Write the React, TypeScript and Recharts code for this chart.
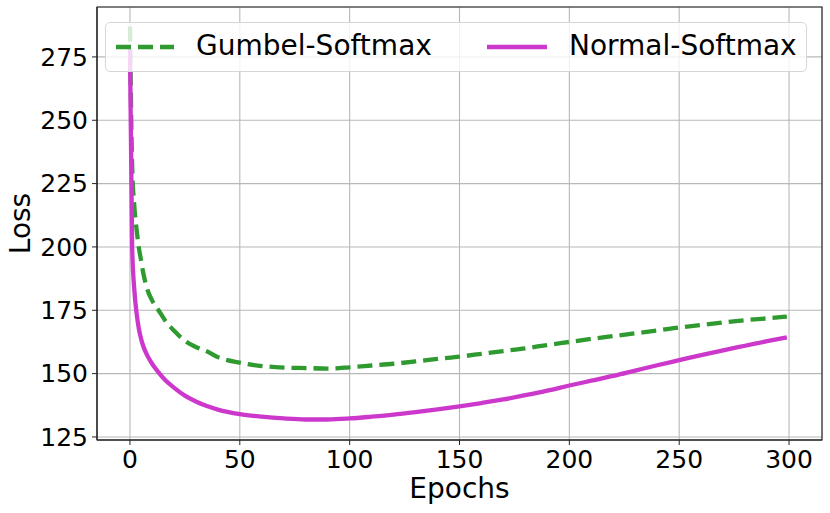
import { LineChart, Line, XAxis, YAxis, CartesianGrid, ReferenceArea } from "recharts";

const epochs = [0, 1, 2, 3, 4, 5, 6, 8, 10, 13, 16, 20, 25, 30, 35, 40, 50, 60, 70, 80, 90, 100, 110, 120, 130, 140, 150, 160, 170, 180, 190, 200, 210, 220, 230, 240, 250, 260, 270, 280, 290, 299];

const gumbel = [287, 232, 216, 207, 200, 195, 190, 183, 179, 175, 171, 167, 163, 160.5, 158.8, 156.5, 154.3, 153, 152.4, 152.2, 152, 152.5, 153.2, 153.9, 154.8, 155.8, 156.7, 157.8, 158.9, 160, 161.3, 162.5, 163.7, 164.8, 165.9, 167, 168.2, 169.2, 170.2, 171.1, 171.8, 172.5];

const normal = [278, 200, 183, 174, 168, 164, 161, 157, 154, 150.5, 147.5, 144.5, 141.3, 139, 137.2, 135.8, 134, 133, 132.3, 131.9, 131.9, 132.3, 133, 133.8, 134.8, 135.9, 137.1, 138.4, 139.8, 141.5, 143.3, 145.3, 147.2, 149.1, 151.2, 153.3, 155.3, 157.3, 159.2, 161, 162.8, 164.3];

const xTicks = [0, 50, 100, 150, 200, 250, 300];
const yTicks = [125, 150, 175, 200, 225, 250, 275];

const data = epochs.map((e, i) => ({ epoch: e, gumbel: gumbel[i], normal: normal[i] }));

const GREEN = "#2f9a2f";
const MAGENTA = "#cc38cc";
const FONT = "DejaVu Sans";

// legend drawn as an overlay, like matplotlib's semi-transparent box
function LegendBox() {
  return (
    <div
      style={{
        position: "absolute",
        left: 105,
        top: 22,
        width: 700,
        height: 48,
        border: "1px solid #d6d6d6",
        borderRadius: 5,
        background: "rgba(255,255,255,0.8)",
        fontFamily: FONT,
        fontSize: 28,
        color: "#000",
      }}
    >
      <svg style={{ position: "absolute", left: 10, top: 20 }} width={58} height={8}>
        <line x1={0} y1={4} x2={58} y2={4} stroke={GREEN} strokeWidth={4.3} strokeDasharray="15 7" />
      </svg>
      <span style={{ position: "absolute", left: 90, top: 6, lineHeight: "34px" }}>Gumbel-Softmax</span>
      <svg style={{ position: "absolute", left: 381, top: 20 }} width={60} height={8}>
        <line x1={0} y1={4} x2={60} y2={4} stroke={MAGENTA} strokeWidth={4.3} />
      </svg>
      <span style={{ position: "absolute", left: 463, top: 6, lineHeight: "34px" }}>Normal-Softmax</span>
    </div>
  );
}

export default function App() {
  return (
    <div style={{ position: "absolute", left: 0, top: 0, width: 830, height: 513, background: "#fff" }}>
      <LineChart width={830} height={513} data={data} margin={{ top: 7, right: 8, left: 0, bottom: 0 }}>
        <CartesianGrid stroke="#b8b8b8" strokeWidth={1.1} />
        <XAxis
          dataKey="epoch"
          type="number"
          domain={[-15, 315]}
          ticks={xTicks}
          allowDataOverflow
          height={73}
          tickSize={5}
          tickMargin={5}
          stroke="#222"
          tick={{ fill: "#000", fontSize: 25, fontFamily: FONT }}
          label={{ value: "Epochs", position: "insideBottom", offset: 15, fill: "#000", fontSize: 28, fontFamily: FONT }}
        />
        <YAxis
          type="number"
          domain={[123.8, 294.7]}
          ticks={yTicks}
          allowDataOverflow
          width={97}
          tickSize={5}
          tickMargin={4}
          stroke="#222"
          tick={{ fill: "#000", fontSize: 25, fontFamily: FONT }}
          label={{
            value: "Loss",
            angle: -90,
            position: "insideLeft",
            offset: 20,
            fill: "#000",
            fontSize: 28,
            fontFamily: FONT,
            style: { textAnchor: "middle" },
          }}
        />
        <ReferenceArea x1={-15} x2={315} y1={123.8} y2={294.7} fill="none" stroke="#222" strokeWidth={1.1} />
        <Line
          dataKey="gumbel"
          stroke={GREEN}
          strokeWidth={4.3}
          strokeDasharray="15 7"
          dot={false}
          type="monotone"
          isAnimationActive={false}
        />
        <Line
          dataKey="normal"
          stroke={MAGENTA}
          strokeWidth={4.3}
          dot={false}
          type="monotone"
          isAnimationActive={false}
        />
      </LineChart>
      <LegendBox />
    </div>
  );
}
